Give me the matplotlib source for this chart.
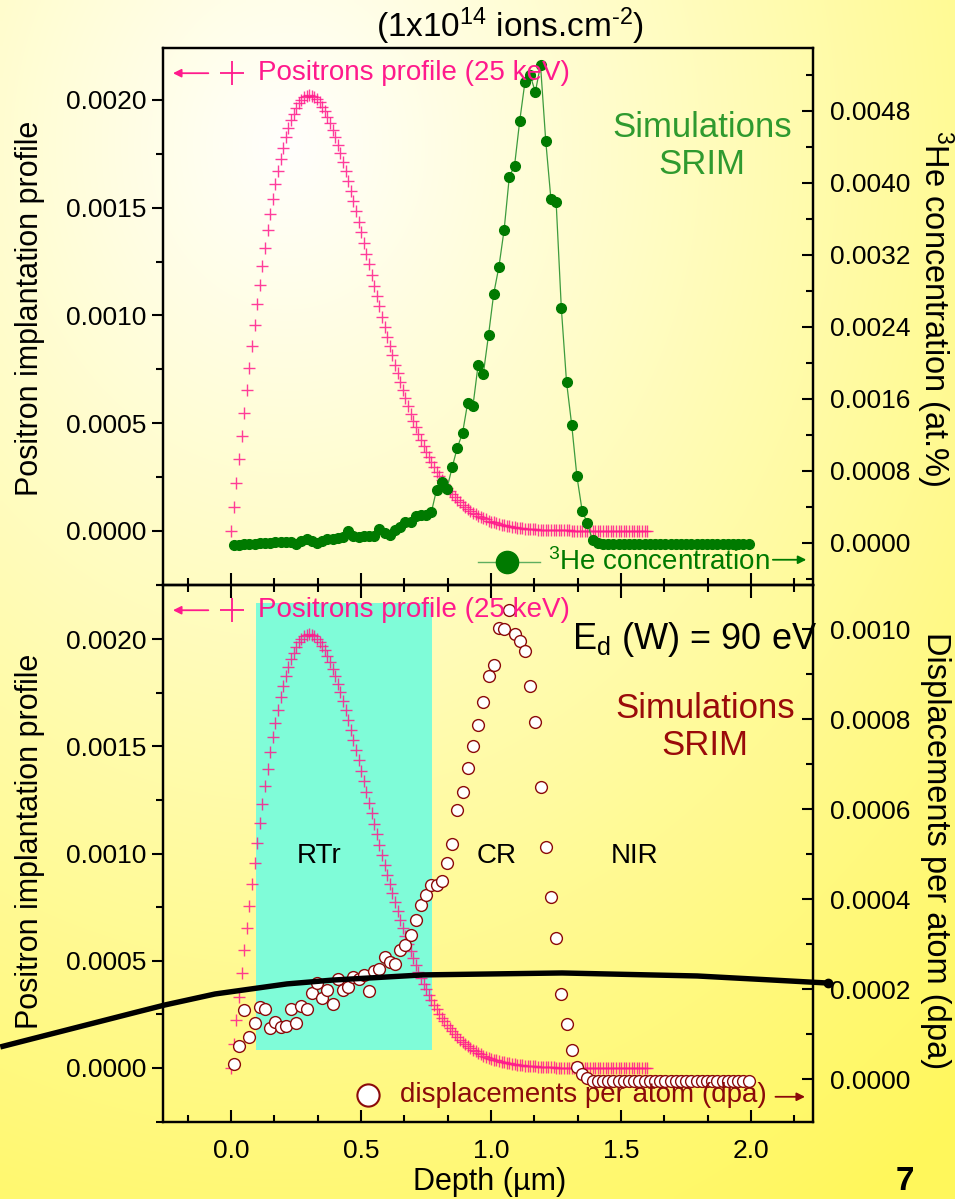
import numpy as np
import matplotlib.pyplot as plt
from matplotlib.ticker import MultipleLocator, FormatStrFormatter

plt.rcParams['font.family'] = ['Liberation Sans', 'DejaVu Sans']
plt.rcParams['mathtext.fontset'] = 'custom'
plt.rcParams['mathtext.rm'] = 'Liberation Sans'
plt.rcParams['mathtext.it'] = 'Liberation Sans:italic'
plt.rcParams['mathtext.bf'] = 'Liberation Sans:bold'

# === Données ===
# profil d'implantation des positons (25 keV), pas de 0.01 um
pos_depth = np.round(np.arange(0, 1.605, 0.01), 2)
pos_profile = [
    0.0, 0.000111, 0.000222, 0.000332, 0.000441, 0.000548, 0.000654, 0.000757, 0.000858, 0.000956,
    0.001051, 0.001143, 0.001231, 0.001315, 0.001395, 0.001471, 0.001542, 0.001609, 0.001671, 0.001728,
    0.001779, 0.001826, 0.001868, 0.001905, 0.001936, 0.001963, 0.001984, 0.002001, 0.002013, 0.002020,
    0.002022, 0.002020, 0.002013, 0.002002, 0.001988, 0.001969, 0.001947, 0.001922, 0.001893, 0.001861,
    0.001827, 0.001790, 0.001752, 0.001710, 0.001668, 0.001623, 0.001578, 0.001531, 0.001483, 0.001434,
    0.001385, 0.001336, 0.001286, 0.001237, 0.001187, 0.001138, 0.001090, 0.001042, 0.000994, 0.000948,
    0.000902, 0.000858, 0.000814, 0.000772, 0.000731, 0.000691, 0.000652, 0.000615, 0.000579, 0.000544,
    0.000511, 0.000480, 0.000449, 0.000420, 0.000392, 0.000366, 0.000341, 0.000318, 0.000295, 0.000274,
    0.000254, 0.000235, 0.000217, 0.000201, 0.000185, 0.000171, 0.000157, 0.000144, 0.000132, 0.000121,
    0.000111, 0.000102, 0.000093, 0.000085, 0.000077, 0.000070, 0.000064, 0.000058, 0.000053, 0.000048,
    0.000043, 0.000039, 0.000035, 0.000032, 0.000028, 0.000026, 0.000023, 0.000021, 0.000018, 0.000017,
    0.000015, 0.000013, 0.000012, 0.000010, 0.000009, 0.000008, 0.000007, 0.000007, 0.000006, 0.000005,
    0.000005, 0.000004, 0.000004, 0.000003, 0.000003, 0.000002, 0.000002, 0.000002, 0.000002, 0.000002,
    0.000002, 0.000001, 0.000001, 0.000001, 0.000001, 0.000001, 0.000001, 0.000001, 0.000001, 0.000001,
    0.000001, 0.0, 0.0, 0.0, 0.0, 0.0, 0.0, 0.0, 0.0, 0.0,
    0.0, 0.0, 0.0, 0.0, 0.0, 0.0, 0.0, 0.0, 0.0, 0.0,
    0.0,
]

# SRIM : concentration 3He (at.%) et dpa, pas de 0.02 um
srim_depth = np.round(np.arange(0.01, 2.0, 0.02), 2)
he_conc = [
    -0.00002, -0.00002, -0.00001, -0.00001, -0.00001, 0.0, 0.0, 0.0, 0.00001, 0.00001,
    0.00001, 0.00001, -0.00001, 0.00002, 0.00004, 0.00002, 0.0, 0.00002, 0.00004, 0.00004,
    0.00006, 0.00007, 0.00013, 0.00008, 0.00007, 0.00008, 0.00008, 0.00008, 0.00016, 0.00011,
    0.00009, 0.00014, 0.00018, 0.00023, 0.00023, 0.00030, 0.00031, 0.00031, 0.00034, 0.00059,
    0.00068, 0.00060, 0.00084, 0.00106, 0.00122, 0.00156, 0.00152, 0.00198, 0.00188, 0.00231,
    0.00277, 0.00307, 0.00348, 0.00407, 0.00419, 0.00469, 0.00512, 0.00520, 0.00501, 0.00531,
    0.00447, 0.00382, 0.00379, 0.00261, 0.00179, 0.00131, 0.00074, 0.00036, 0.00022, 0.00003,
    0.0, -0.00001, -0.000015, -0.000015, -0.000015, -0.000015, -0.000015, -0.000015, -0.000015, -0.000015,
    -0.000015, -0.000015, -0.000015, -0.000015, -0.000015, -0.000015, -0.000015, -0.000015, -0.000015, -0.000015,
    -0.000015, -0.000015, -0.000015, -0.000015, -0.000015, -0.000015, -0.000015, -0.000015, -0.000015, -0.000015,
]
dpa = [
    0.000033, 0.000073, 0.000153, 0.000093, 0.000124, 0.000160, 0.000156, 0.000113, 0.000127, 0.000116,
    0.000118, 0.000156, 0.000124, 0.000162, 0.000156, 0.000191, 0.000213, 0.000180, 0.000198, 0.000167,
    0.000222, 0.000198, 0.000204, 0.000227, 0.000222, 0.000231, 0.000196, 0.000240, 0.000244, 0.000271,
    0.000260, 0.000256, 0.000287, 0.000298, 0.000320, 0.000353, 0.000387, 0.000409, 0.000431, 0.000431,
    0.000440, 0.000480, 0.000522, 0.000598, 0.000638, 0.000691, 0.000740, 0.000787, 0.000838, 0.000896,
    0.000920, 0.001002, 0.001000, 0.001042, 0.000989, 0.000973, 0.000951, 0.000873, 0.000793, 0.000649,
    0.000516, 0.000404, 0.000313, 0.000189, 0.000122, 0.000064, 0.000027, 0.000011, 0.000002, -0.000004,
    -0.000004, -0.000004, -0.000004, -0.000004, -0.000004, -0.000004, -0.000004, -0.000004, -0.000004, -0.000004,
    -0.000004, -0.000004, -0.000004, -0.000004, -0.000004, -0.000004, -0.000004, -0.000004, -0.000004, -0.000004,
    -0.000004, -0.000004, -0.000004, -0.000004, -0.000004, -0.000004, -0.000004, -0.000004, -0.000004, -0.000004,
]

# courbe noire (échelle de gauche du panneau du bas), déborde du cadre
line_depth = [-0.888, -0.362, -0.254, -0.062, 0.215, 0.392, 0.738, 1.273, 1.792, 2.296]
line_val = [0.000098, 0.000261, 0.000294, 0.000345, 0.000392, 0.000410, 0.000434, 0.000443, 0.000429, 0.000396]

# zones
region_names = ["RTr", "CR", "NIR"]
region_x = [0.34, 1.02, 1.55]
region_y = 0.00099
rtr_left, rtr_right = 0.096, 0.773
rtr_bottom, rtr_top = 0.000084, 0.002168

PINK = '#ff1a8c'
GREEN = '#007a00'
DARKRED = '#8b0a0a'

# === Figure ===
fig = plt.figure(figsize=(9.55, 11.99), dpi=100)

# fond dégradé crème -> jaune
bg = fig.add_axes([0, 0, 1, 1], zorder=-10)
yy, xx = np.mgrid[0:1:240j, 0:1:191j]
t = np.clip(np.hypot((xx - 0.30) * 0.95, (yy - 0.12)) / 1.05, 0, 1)
img = np.dstack([np.ones_like(t), 1.0 - 0.03 * t, 0.99 - 0.63 * t])
bg.imshow(img, extent=[0, 1, 0, 1], aspect='auto', interpolation='bilinear')
bg.axis('off')

L, W, H = 0.1707, 0.6806, 0.4479
ax1 = fig.add_axes([L, 0.5121, W, H])
ax2 = fig.add_axes([L, 0.0642, W, H])
ax1r = ax1.twinx()
ax2r = ax2.twinx()

XLIM = (-0.262, 2.238)
for ax in (ax1, ax2, ax1r, ax2r):
    ax.set_facecolor('none')
    ax.set_xlim(*XLIM)
    for s in ax.spines.values():
        s.set_linewidth(1.6)

ax1.set_ylim(-0.000251, 0.002241)
ax2.set_ylim(-0.000252, 0.002252)
ax1r.set_ylim(-0.000467, 0.0055)
ax2r.set_ylim(-0.0000956, 0.001098)

# ticks
for ax in (ax1, ax2):
    ax.xaxis.set_major_locator(MultipleLocator(0.5))
    ax.xaxis.set_minor_locator(MultipleLocator(0.5 / 3))
    ax.yaxis.set_major_locator(MultipleLocator(0.0005))
    ax.yaxis.set_minor_locator(MultipleLocator(0.00025))
    ax.yaxis.set_major_formatter(FormatStrFormatter('%.4f'))
    ax.tick_params(axis='y', which='both', direction='out', labelsize=19, pad=4, width=1.5)
    ax.tick_params(axis='y', which='major', length=8)
    ax.tick_params(axis='y', which='minor', length=5)
    ax.tick_params(axis='x', which='both', direction='in', width=1.5, labelsize=19, pad=12)
    ax.tick_params(axis='x', which='major', length=9)
    ax.tick_params(axis='x', which='minor', length=5)

ax1.tick_params(axis='x', which='both', bottom=True, top=False, labelbottom=False)
ax2.tick_params(axis='x', which='both', bottom=True, top=True, labelbottom=True)
ax2.xaxis.set_major_formatter(FormatStrFormatter('%.1f'))

ax1r.yaxis.set_major_locator(MultipleLocator(0.0008))
ax1r.yaxis.set_minor_locator(MultipleLocator(0.0004))
ax2r.yaxis.set_major_locator(MultipleLocator(0.0002))
ax2r.yaxis.set_minor_locator(MultipleLocator(0.0001))
for ax in (ax1r, ax2r):
    ax.yaxis.set_major_formatter(FormatStrFormatter('%.4f'))
    ax.tick_params(axis='y', which='both', direction='in', labelsize=19, pad=12, width=1.5)
    ax.tick_params(axis='y', which='major', length=8)
    ax.tick_params(axis='y', which='minor', length=5)

# === Panneau du haut ===
ax1.plot(pos_depth, pos_profile, ls='none', marker='+', ms=8, mew=1.0, color=PINK, alpha=0.85)
ax1r.plot(srim_depth, he_conc, '-', color='#3d9b3d', lw=0.9)
ax1r.plot(srim_depth, he_conc, ls='none', marker='o', ms=7, color=GREEN, mec=GREEN)

ax1.set_ylabel('Positron implantation profile', fontsize=22, va='center', ha='center')
ax1.yaxis.set_label_coords(-0.205, 0.515)
ax1r.set_ylabel(r'$^{\mathregular{3}}$He concentration (at.%)', fontsize=23.5,
                rotation=270, va='center', ha='center')
ax1r.yaxis.set_label_coords(1.188, 0.515)

# === Panneau du bas ===
ax2.fill_between([rtr_left, rtr_right], rtr_bottom, rtr_top, color='#7ffcd8', lw=0, zorder=0)
ax2.plot(pos_depth, pos_profile, ls='none', marker='+', ms=8, mew=1.0, color=PINK, alpha=0.85)
ax2r.plot(srim_depth, dpa, ls='none', marker='o', ms=8.5, mfc='white', mec=DARKRED, mew=1.0)

# la courbe noire est donnée sur l'échelle de gauche : conversion vers l'échelle de droite
l0, l1 = ax2.get_ylim()
r0, r1 = ax2r.get_ylim()
line_right = r0 + (np.array(line_val) - l0) * (r1 - r0) / (l1 - l0)
ax2r.plot(line_depth, line_right, '-', color='black', lw=3.9, clip_on=False,
          solid_capstyle='butt', marker='o', ms=6, markevery=[-1], zorder=5)

for name, x in zip(region_names, region_x):
    ax2.text(x, region_y, name, fontsize=20, ha='center', va='center', color='black', zorder=4)

ax2.set_ylabel('Positron implantation profile', fontsize=22, va='center', ha='center')
ax2.yaxis.set_label_coords(-0.205, 0.522)
ax2r.set_ylabel('Displacements per atom (dpa)', fontsize=23.5, rotation=270, va='center', ha='center')
ax2r.yaxis.set_label_coords(1.188, 0.505)
ax2.set_xlabel('Depth (\u00b5m)', fontsize=22)
ax2.xaxis.set_label_coords(0.503, -0.084)

# === Légendes et annotations ===
for ax in (ax1r, ax2r):
    ax.annotate('', xy=(0.011, 0.953), xytext=(0.074, 0.953), xycoords='axes fraction',
                arrowprops=dict(arrowstyle='-|>', color=PINK, lw=1.3, mutation_scale=12))
    ax.plot([0.106], [0.953], marker='+', ms=17, mew=1.3, color=PINK,
            transform=ax.transAxes, clip_on=False)
    ax.text(0.146, 0.953, 'Positrons profile (25 keV)', transform=ax.transAxes,
            fontsize=20, color=PINK, va='center', ha='left', zorder=10)

ax1r.plot([0.485, 0.58], [0.043, 0.043], '-', color='#5fae5f', lw=1.0, transform=ax1r.transAxes)
ax1r.plot([0.529], [0.043], marker='o', ms=16, color=GREEN, transform=ax1r.transAxes)
ax1r.text(0.592, 0.043, r'$^{\mathregular{3}}$He concentration', transform=ax1r.transAxes,
          fontsize=20, color=GREEN, va='center', ha='left')
ax1r.annotate('', xy=(0.994, 0.047), xytext=(0.934, 0.047), xycoords='axes fraction',
              arrowprops=dict(arrowstyle='-|>', color=GREEN, lw=1.3, mutation_scale=12))
ax1r.text(0.829, 0.8175, 'Simulations\nSRIM', transform=ax1r.transAxes, fontsize=25,
          color='#2f9a2f', ha='center', va='center', linespacing=1.15)

ax2r.plot([0.315], [0.05], marker='o', ms=16, mfc='white', mec=DARKRED, mew=1.5,
          transform=ax2r.transAxes)
ax2r.text(0.365, 0.05, 'displacements per atom (dpa)', transform=ax2r.transAxes,
          fontsize=20, color=DARKRED, va='center', ha='left')
ax2r.annotate('', xy=(0.992, 0.047), xytext=(0.938, 0.047), xycoords='axes fraction',
              arrowprops=dict(arrowstyle='-|>', color=DARKRED, lw=1.3, mutation_scale=12))
ax2r.text(0.834, 0.736, 'Simulations\nSRIM', transform=ax2r.transAxes, fontsize=25,
          color='#9a0a0a', ha='center', va='center', linespacing=1.15)
ax2r.text(0.629, 0.898, r'E$_{\mathregular{d}}$ (W) = 90 eV', transform=ax2r.transAxes,
          fontsize=26, color='black', ha='left', va='center', clip_on=False)

fig.text(0.534, 0.978, '(1x10$^{\\mathregular{14}}$ ions.cm$^{\\mathregular{\u20102}}$)',
         fontsize=24, ha='center', va='center')
fig.text(0.948, 0.002, '7', fontsize=24, fontweight='bold', ha='center', va='bottom')

fig.savefig('out.png', dpi=100)
